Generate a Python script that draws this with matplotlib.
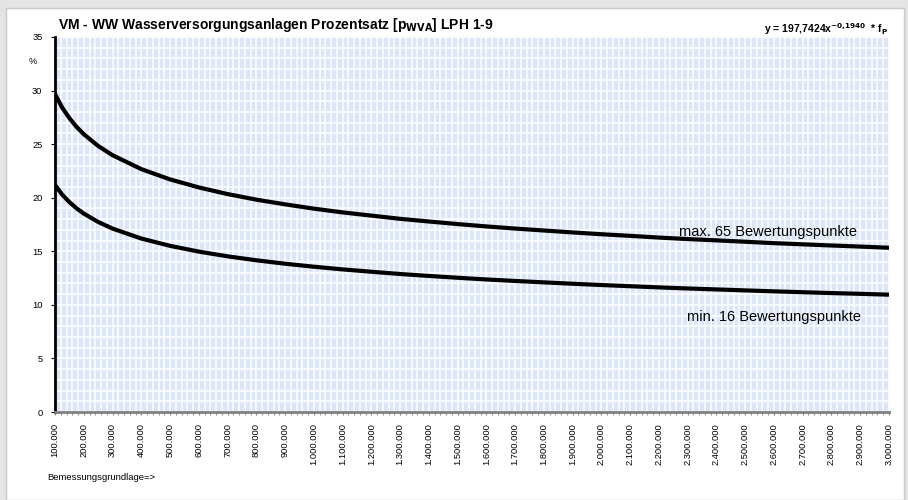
import matplotlib
matplotlib.use("Agg")
import matplotlib.pyplot as plt
from matplotlib.patches import Rectangle
from matplotlib.ticker import FuncFormatter, MultipleLocator

# Bemessungsgrundlage (EUR) and read-off percentages
x_vals = [100000, 125000, 150000, 175000, 200000, 250000, 300000, 400000, 500000,
          600000, 700000, 800000, 900000, 1000000, 1100000, 1200000, 1300000,
          1400000, 1500000, 1600000, 1700000, 1800000, 1900000, 2000000, 2100000,
          2200000, 2300000, 2400000, 2500000, 2600000, 2700000, 2800000, 2900000,
          3000000]
max_vals = [29.67, 28.41, 27.43, 26.61, 25.93, 24.83, 23.97, 22.67, 21.71,
            20.96, 20.34, 19.82, 19.38, 18.98, 18.63, 18.33, 18.03,
            17.78, 17.54, 17.32, 17.12, 16.94, 16.76, 16.59, 16.44,
            16.28, 16.14, 16.02, 15.89, 15.76, 15.65, 15.54, 15.44,
            15.33]
min_vals = [21.19, 20.29, 19.59, 19.01, 18.52, 17.74, 17.12, 16.19, 15.51,
            14.97, 14.53, 14.16, 13.84, 13.56, 13.31, 13.09, 12.88,
            12.70, 12.53, 12.37, 12.23, 12.10, 11.97, 11.85, 11.74,
            11.63, 11.53, 11.44, 11.35, 11.26, 11.18, 11.10, 11.03,
            10.95]
tick_x = list(range(100000, 3000001, 100000))

plt.rcParams['font.family'] = ['Liberation Sans', 'DejaVu Sans']

fig = plt.figure(figsize=(9.08, 5.0), dpi=100, facecolor='#e4e4e4')
fig.patches.append(Rectangle((6/908, 0), 898/908, 492/500, transform=fig.transFigure,
                             facecolor='white', edgecolor='#c8c8c8', lw=1, zorder=-10))

ax = fig.add_axes([55/908, 1-412/500, (889-55)/908, (412-37)/500])
ax.set_facecolor('#dce6f8')
ax.plot(x_vals, max_vals, color='black', lw=3.0, solid_capstyle='butt')
ax.plot(x_vals, min_vals, color='black', lw=3.0, solid_capstyle='butt')

ax.set_xlim(100000, 3000000)
ax.set_ylim(0, 35)
ax.set_xticks(tick_x)
ax.xaxis.set_minor_locator(MultipleLocator(20000))
ax.yaxis.set_major_locator(MultipleLocator(5))
ax.yaxis.set_minor_locator(MultipleLocator(1))
ax.xaxis.set_major_formatter(FuncFormatter(lambda v, p: f"{int(v):,}".replace(',', '.')))
ax.grid(which='both', color='white', lw=1.1)
ax.set_axisbelow(True)
ax.tick_params(axis='x', which='both', labelsize=6.7, rotation=90, length=2,
               color='#808080', pad=6)
ax.tick_params(axis='y', which='major', labelsize=6.7, length=3, color='black', pad=6)
ax.tick_params(axis='y', which='minor', length=0)
for s in ['top', 'right']:
    ax.spines[s].set_visible(False)
ax.spines['left'].set_linewidth(2)
ax.spines['bottom'].set_color('#808080')
ax.spines['bottom'].set_linewidth(2)

ax.text(-0.022, 32.7, '%', transform=ax.get_yaxis_transform(), ha='right',
        va='center', fontsize=6.7)
fig.text(58/908, 1-25/500, 'VM - WW Wasserversorgungsanlagen Prozentsatz [p$_{\\mathbf{WVA}}$] LPH 1-9',
         fontsize=10, fontweight='bold', va='center', ha='left')
fig.text(888/908, 1-29/500, 'y = 197,7424x$^{\\mathbf{-0{,}1940}}$  * f$_{\\mathbf{P}}$',
         fontsize=7.5, fontweight='bold', va='center', ha='right')
fig.text(47/908, 1-478/500, 'Bemessungsgrundlage=>', fontsize=6.8, va='center')
ax.text(2580000, 16.8, 'max. 65 Bewertungspunkte', fontsize=10.5, ha='center', va='center')
ax.text(2600000, 8.85, 'min. 16 Bewertungspunkte', fontsize=10.5, ha='center', va='center')

fig.savefig('out.png', dpi=100, facecolor=fig.get_facecolor())
